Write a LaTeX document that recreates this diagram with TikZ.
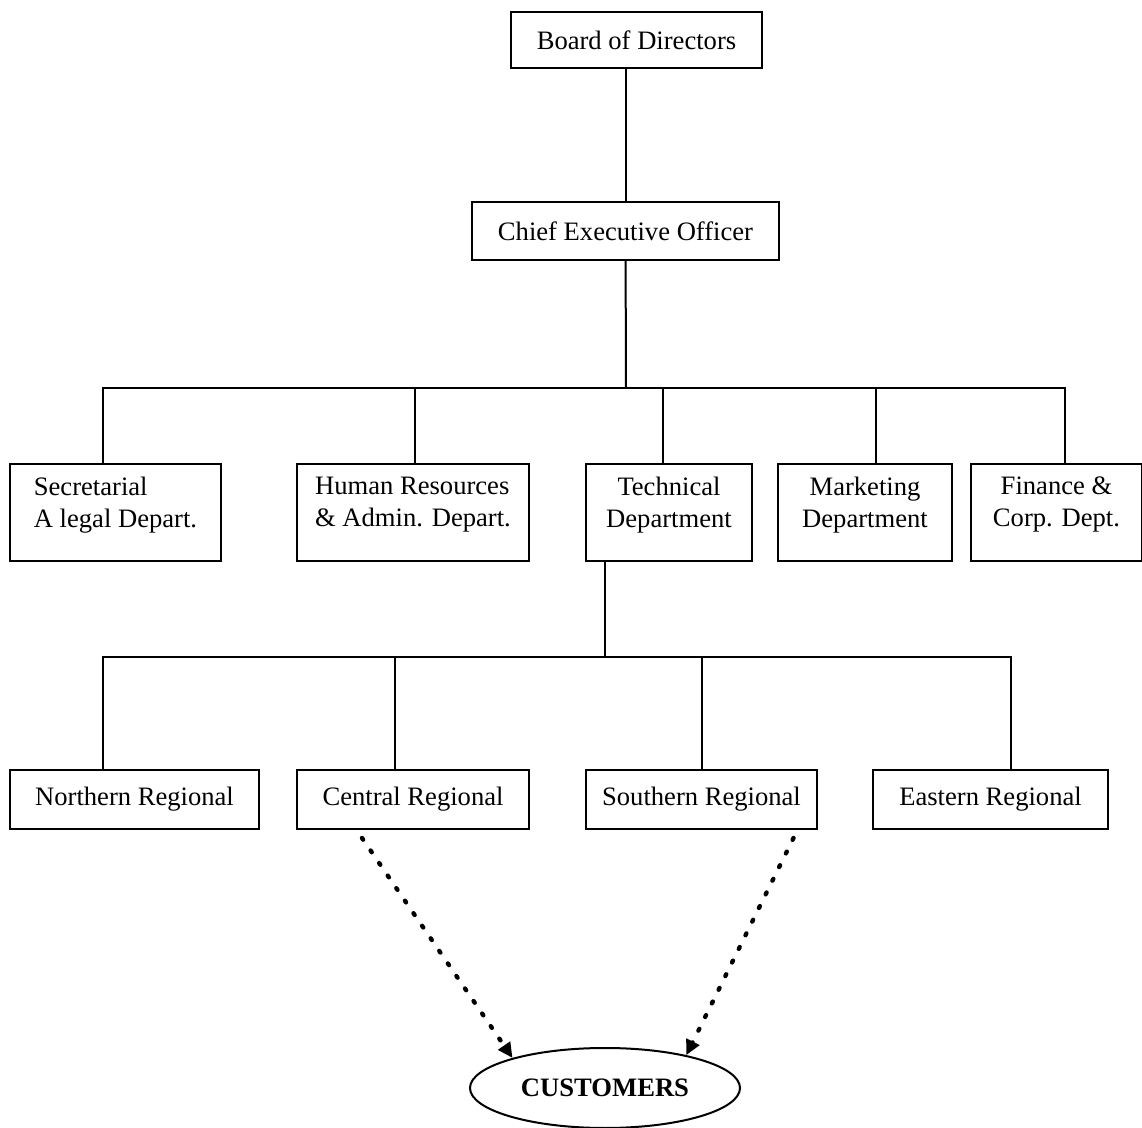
\documentclass[tikz,border=0pt]{standalone}
\usepackage{fontspec}
\setmainfont{Liberation Serif}
\usetikzlibrary{arrows.meta,shapes.geometric}

\begin{document}
\begin{tikzpicture}[x=0.5pt, y=-0.5pt, line width=1pt,
    font=\fontsize{13.3}{16}\selectfont,
    box/.style={draw, rectangle, inner sep=0pt},
    dept/.style={box, minimum height=48.5pt, text depth=11pt},
    region/.style={box, minimum height=29.5pt},
    toclient/.style={-{Triangle[length=7.5pt, width=7pt]}, line width=2.2pt,
      line cap=round, dash pattern=on 1pt off 6.6pt}]
    \useasboundingbox (0, 0) rectangle (1142, 1128);
    % top of the chart
    \node[box, minimum width=125.5pt, minimum height=28pt] (board) at (636.5, 40) {Board of Directors};
    \node[box, minimum width=153.5pt, minimum height=29pt] (ceo) at (625.5, 231) {Chief Executive Officer};
    \draw (board.south -| ceo) -- (ceo);
    % departments
    \node[dept, minimum width=105.5pt, align=left] (sec) at (115.5, 513) {Secretarial\\A legal Depart.};
    \node[dept, minimum width=116pt, align=left] (hr) at (413, 513) {Human Resources\\\& Admin. Depart.};
    \node[dept, minimum width=83pt, align=center] (tech) at (669, 513) {Technical\\Department};
    \node[dept, minimum width=87pt, align=center] (mkt) at (865, 513) {Marketing\\Department};
    \node[dept, minimum width=85.5pt, align=center] (fin) at (1056.5, 513) {Finance \&\\Corp. Dept.};
    \coordinate (bus1) at (626, 388);
    \draw (ceo) -- (bus1);
    \draw ([xshift=-6.25pt]sec.north) |- (bus1);
    \draw ([xshift=1pt]hr.north) |- (bus1);
    \draw ([xshift=-3pt]tech.north) |- (bus1);
    \draw ([xshift=5.5pt]mkt.north) |- (bus1);
    \draw ([xshift=4pt]fin.north) |- (bus1);
    % regional offices
    \node[region, minimum width=124.5pt] (north) at (134.5, 799.5) {Northern Regional};
    \node[region, minimum width=116pt] (central) at (413, 799.5) {Central Regional};
    \node[region, minimum width=115.5pt] (south) at (701.5, 799.5) {Southern Regional};
    \node[region, minimum width=117.5pt] (east) at (990.5, 799.5) {Eastern Regional};
    \coordinate (bus2) at (605, 657);
    \draw (tech.south -| bus2) -- (bus2);
    \draw ([xshift=-15.75pt]north.north) |- (bus2);
    \draw ([xshift=-9pt]central.north) |- (bus2);
    \draw (south.north) |- (bus2);
    \draw ([xshift=10.25pt]east.north) |- (bus2);
    % customers
    \node[draw, ellipse, minimum width=135pt, minimum height=40pt, inner sep=0pt,
      font=\fontsize{13.3}{16}\selectfont\bfseries] (cust) at (605, 1088) {CUSTOMERS};
    \draw[toclient] ([xshift=-25.5pt, yshift=-4pt]central.south) -- (cust.162);
    \draw[toclient] ([xshift=46pt, yshift=-4pt]south.south) -- (cust.22);
\end{tikzpicture}
\end{document}
